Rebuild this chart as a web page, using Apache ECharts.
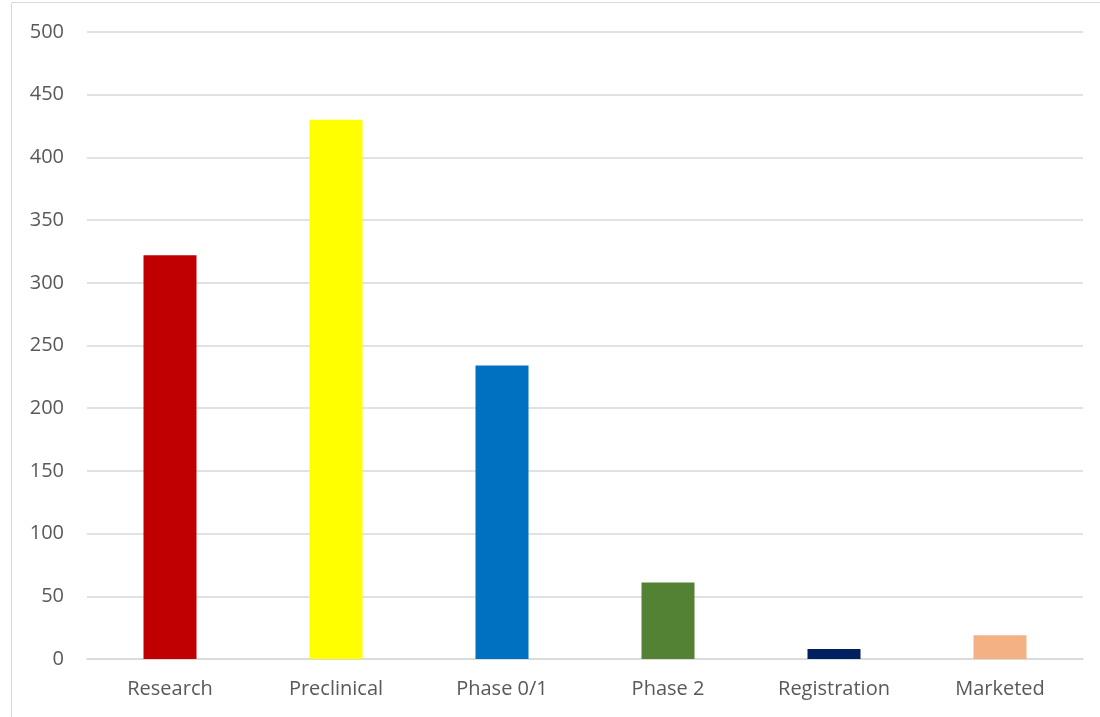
<!DOCTYPE html>
<html><head><meta charset="utf-8">
<script src="https://cdn.jsdelivr.net/npm/echarts@6/dist/echarts.min.js"></script>
<style>html,body{margin:0;padding:0;background:#fff}#c{width:1100px;height:717px}</style>
</head><body><div id="c"></div>
<script>
var categories = ['Research','Preclinical','Phase 0/1','Phase 2','Registration','Marketed'];
var values = [322, 430, 234, 61, 8, 19];
var colors = ['#C00000','#FFFF00','#0070C0','#548235','#002060','#F4B183'];
var yTicks = {min:0, max:500, interval:50};

var chart = echarts.init(document.getElementById('c'));
chart.setOption({
  animation:false,
  backgroundColor:'#fff',
  graphic:[{type:'rect',shape:{x:11.5,y:2.5,width:1200,height:800},style:{fill:'none',stroke:'#d9d9d9',lineWidth:1}}],
  grid:{left:87,right:17,top:32,bottom:58,containLabel:false},
  xAxis:{type:'category',data:categories,
    axisLine:{show:true,lineStyle:{color:'#d9d9d9',width:1.5}},
    axisTick:{show:false},
    axisLabel:{color:'#595959',fontSize:20,fontFamily:'Open Sans',margin:20}},
  yAxis:{type:'value',min:yTicks.min,max:yTicks.max,interval:yTicks.interval,
    axisLine:{show:false},axisTick:{show:false},
    splitLine:{lineStyle:{color:'#d9d9d9',width:1.5}},
    axisLabel:{color:'#595959',fontSize:20,fontFamily:'Open Sans',margin:23}},
  series:[{type:'bar',barWidth:53,
    data:values.map(function(v,i){return {value:v,itemStyle:{color:colors[i]}};})}]
});
</script></body></html>
